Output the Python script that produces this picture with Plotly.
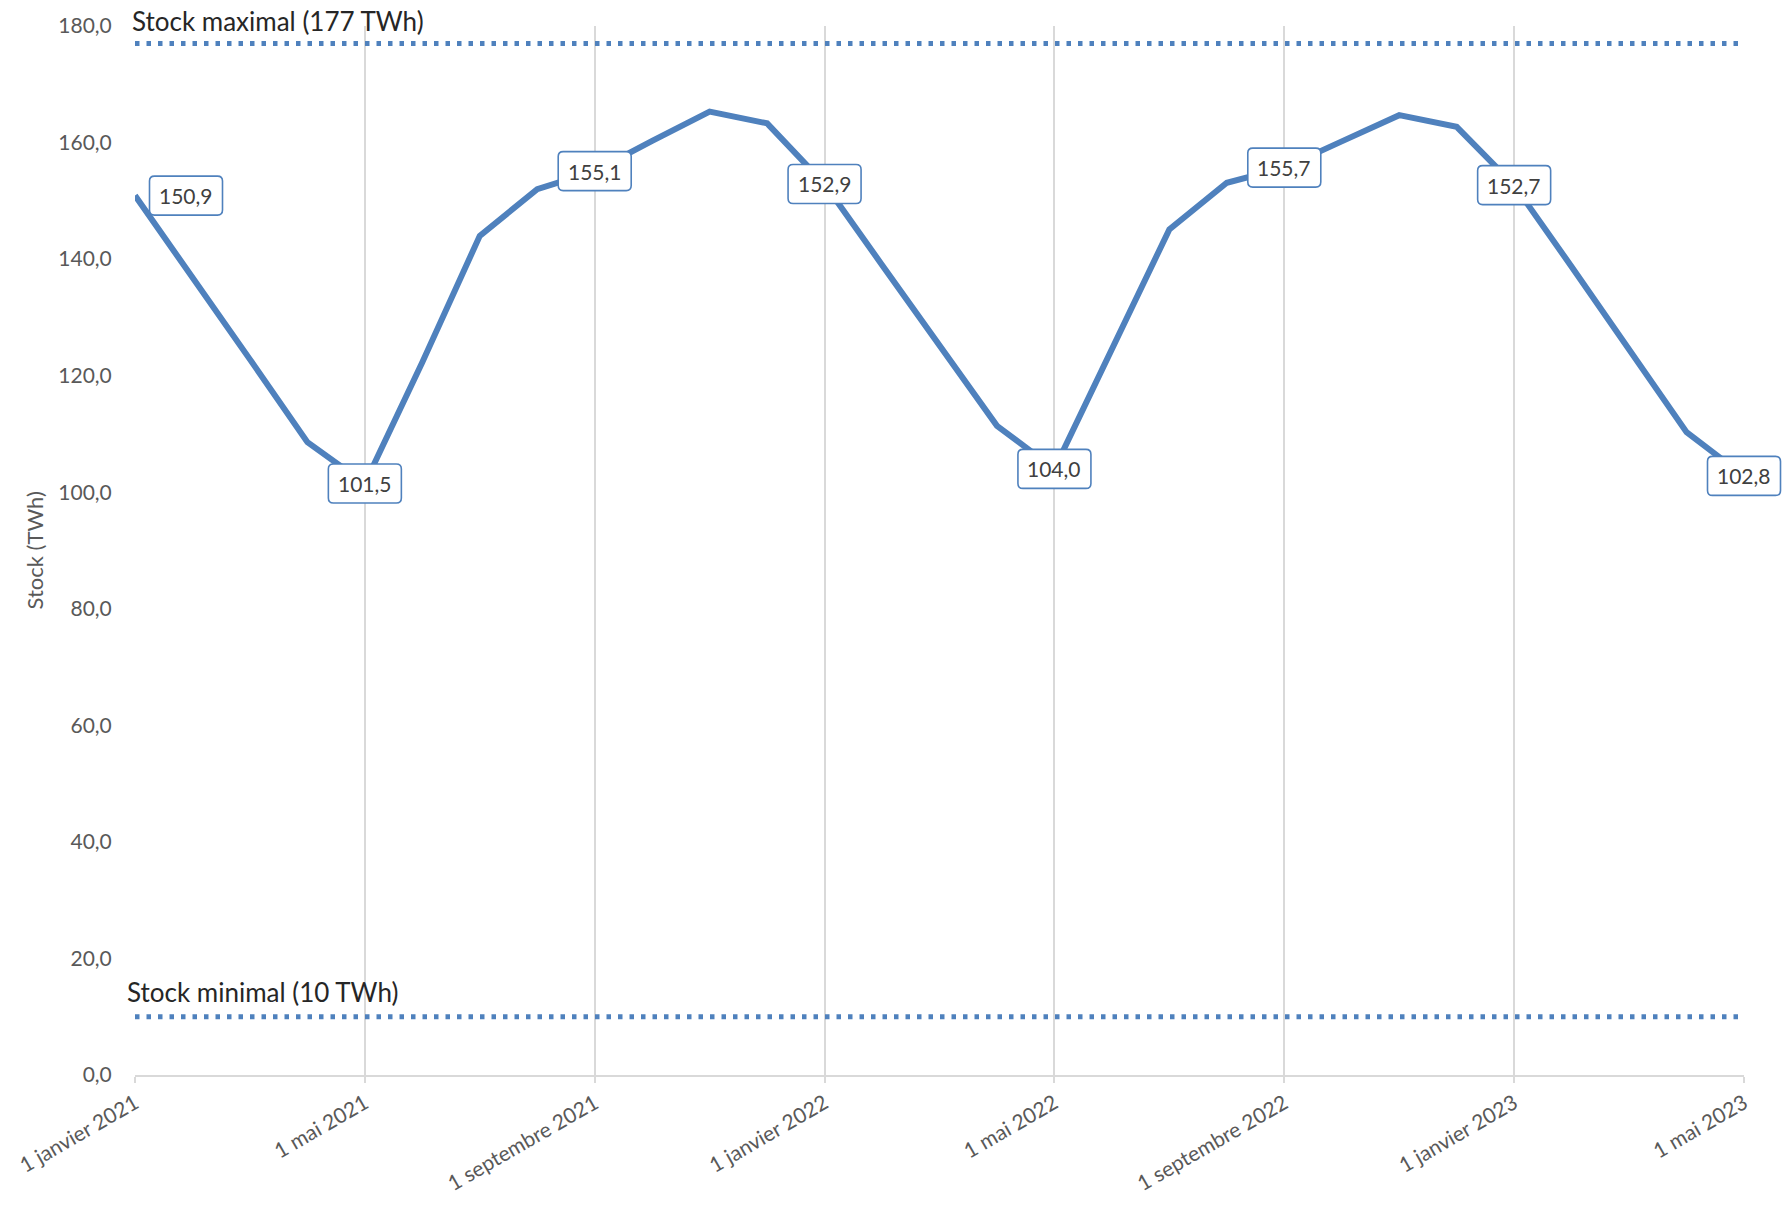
import plotly.graph_objects as go

# ---- data ----
months = [
    "2021-01", "2021-02", "2021-03", "2021-04", "2021-05", "2021-06",
    "2021-07", "2021-08", "2021-09", "2021-10", "2021-11", "2021-12",
    "2022-01", "2022-02", "2022-03", "2022-04", "2022-05", "2022-06",
    "2022-07", "2022-08", "2022-09", "2022-10", "2022-11", "2022-12",
    "2023-01", "2023-02", "2023-03", "2023-04", "2023-05",
]
stock_twh = [
    150.9, 137.0, 122.8, 108.6, 101.5, 122.3,
    144.0, 152.0, 155.1, 160.3, 165.3, 163.3,
    152.9, 139.0, 125.2, 111.4, 104.0, 124.3,
    145.1, 153.1, 155.7, 160.2, 164.7, 162.7,
    152.7, 138.7, 124.5, 110.3, 102.8,
]
tick_months = ["2021-01", "2021-05", "2021-09", "2022-01",
               "2022-05", "2022-09", "2023-01", "2023-05"]
tick_text = ["1 janvier 2021", "1 mai 2021", "1 septembre 2021", "1 janvier 2022",
             "1 mai 2022", "1 septembre 2022", "1 janvier 2023", "1 mai 2023"]
label_months = tick_months
y_ticks = [0, 20, 40, 60, 80, 100, 120, 140, 160, 180]
STOCK_MAX = 177
STOCK_MIN = 10
max_label = "Stock maximal (177 TWh)"
min_label = "Stock minimal (10 TWh)"
y_title = "Stock (TWh)"

BLUE = "#4F81BD"
GRID = "#D9D9D9"
TXT = "#595959"
FONT = "Lato"


def rounded_box(dx, hw=36.5, hh=19.5, r=5):
    """Rounded rectangle path in pixels, centred on (dx, 0)."""
    L, R, B, T = dx - hw, dx + hw, -hh, hh
    return (f"M {L + r},{B} L {R - r},{B} Q {R},{B} {R},{B + r} "
            f"L {R},{T - r} Q {R},{T} {R - r},{T} L {L + r},{T} "
            f"Q {L},{T} {L},{T - r} L {L},{B + r} Q {L},{B} {L + r},{B} Z")


fig = go.Figure()
for lvl in (STOCK_MAX, STOCK_MIN):
    fig.add_trace(go.Scatter(
        x=[months[0], months[-1]], y=[lvl, lvl], mode="lines",
        line=dict(color=BLUE, width=5, dash="4.5px,7px"),
        hoverinfo="skip", showlegend=False))

fig.add_trace(go.Scatter(
    x=months, y=stock_twh, mode="lines",
    line=dict(color=BLUE, width=6), showlegend=False))

annotations = []
shapes = []
last = len(months) - 1
for m in label_months:
    i = months.index(m)
    v = stock_twh[i]
    dx = 51 if i == 0 else 0
    # the box on the last category sits on the axis end; anchor it to the
    # paper edge so it is not clipped by the plot area
    xref, xanc = ("paper", 1) if i == last else ("x", i)
    shapes.append(dict(
        type="path", xref=xref, yref="y",
        xsizemode="pixel", ysizemode="pixel", xanchor=xanc, yanchor=v,
        path=rounded_box(dx), fillcolor="white",
        line=dict(color=BLUE, width=1.6), layer="above"))
    annotations.append(dict(
        x=m, y=v, xref="x", yref="y", showarrow=False,
        text=f"{v:.1f}".replace(".", ","),
        font=dict(family=FONT, size=21, color="#404040"),
        xanchor="center", yanchor="middle", xshift=dx))

annotations.append(dict(
    x=months[0], y=STOCK_MAX, xref="x", yref="y", showarrow=False,
    text=max_label, font=dict(family=FONT, size=26, color="#262626"),
    xanchor="left", yanchor="middle", xshift=-5, yshift=22))
annotations.append(dict(
    x=months[0], y=STOCK_MIN, xref="x", yref="y", showarrow=False,
    text=min_label, font=dict(family=FONT, size=26, color="#262626"),
    xanchor="left", yanchor="middle", xshift=-10, yshift=25))
annotations.append(dict(
    x=0, y=0.5, xref="paper", yref="paper", showarrow=False,
    text=y_title, textangle=-90, font=dict(family=FONT, size=22, color=TXT),
    xanchor="center", yanchor="middle", xshift=-101))

fig.update_layout(
    width=1791, height=1210,
    margin=dict(l=135, r=47, t=22, b=135),
    paper_bgcolor="white", plot_bgcolor="white",
    separators=", ",
    font=dict(family=FONT, color=TXT),
    annotations=annotations,
    shapes=shapes,
    showlegend=False,
)
fig.update_xaxes(
    type="category", categoryorder="array", categoryarray=months,
    range=[0, len(months) - 1],
    tickmode="array", tickvals=tick_months, ticktext=tick_text,
    tickangle=-30, tickfont=dict(family=FONT, size=21, color=TXT),
    showgrid=True, gridcolor=GRID, gridwidth=1.5,
    showline=True, linecolor=GRID, linewidth=2,
    ticks="outside", ticklen=6, tickcolor=GRID, tickwidth=1.5,
    zeroline=False,
)
fig.update_yaxes(
    range=[0, 180], tickmode="array", tickvals=y_ticks, tickformat=".1f",
    tickfont=dict(family=FONT, size=21, color=TXT),
    showgrid=False, zeroline=False, showline=False,
    ticks="outside", ticklen=18, tickcolor="rgba(0,0,0,0)",
)

fig.write_html(
    "out.html",
    config={"displayModeBar": False},
    post_script="document.body.style.margin='0px';document.body.style.overflow='hidden';",
)
